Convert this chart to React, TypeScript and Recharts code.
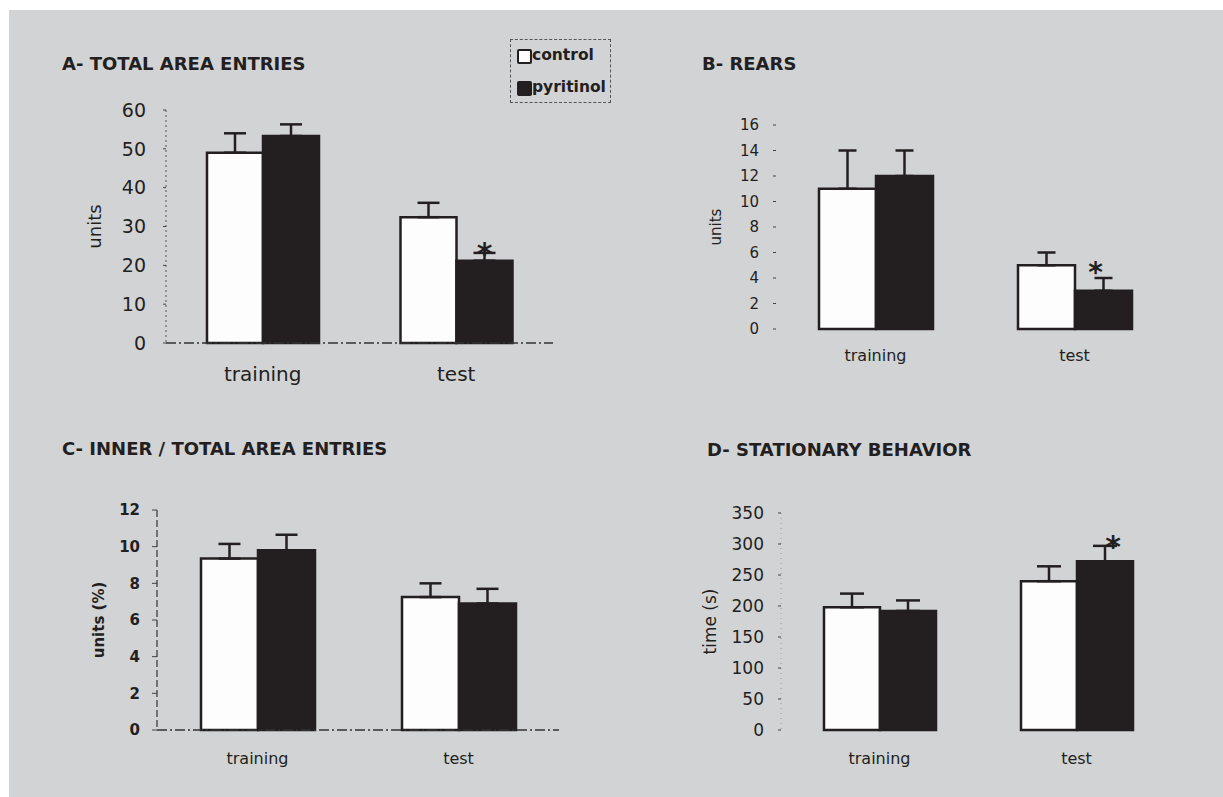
import { Bar, BarChart, ErrorBar, Label, LabelList, XAxis, YAxis } from "recharts";

const INK = "#231f20";
const PAPER = "#d2d3d5";
const FONT = "'DejaVu Sans', sans-serif";

const categories = ["training", "test"];

// A - total area entries
const entriesControl = [49, 32.4];
const entriesControlErr = [5, 3.7];
const entriesPyritinol = [53.3, 21.2];
const entriesPyritinolErr = [3, 2];
const entriesSig = ["", "*"];
const entriesTicks = [0, 10, 20, 30, 40, 50, 60];

// B - rears
const rearsControl = [11, 5];
const rearsControlErr = [3, 1];
const rearsPyritinol = [12, 3];
const rearsPyritinolErr = [2, 1];
const rearsSig = ["", "*"];
const rearsTicks = [0, 2, 4, 6, 8, 10, 12, 14, 16];

// C - inner / total area entries
const innerControl = [9.35, 7.25];
const innerControlErr = [0.8, 0.75];
const innerPyritinol = [9.8, 6.9];
const innerPyritinolErr = [0.85, 0.8];
const innerSig = ["", ""];
const innerTicks = [0, 2, 4, 6, 8, 10, 12];

// D - stationary behavior
const stationaryControl = [198, 240];
const stationaryControlErr = [22, 24];
const stationaryPyritinol = [192, 272];
const stationaryPyritinolErr = [17, 25];
const stationarySig = ["", "*"];
const stationaryTicks = [0, 50, 100, 150, 200, 250, 300, 350];

function buildRows(control: number[], controlErr: number[], pyritinol: number[], pyritinolErr: number[], sig: string[]) {
  return categories.map((name, i) => ({
    name,
    control: control[i],
    controlErr: [0, controlErr[i]],
    pyritinol: pyritinol[i],
    pyritinolErr: [0, pyritinolErr[i]],
    sig: sig[i]
  }));
}

function makeStar(values: number[], errs: number[], dx: number, dy: number, size: number) {
  return (props: any) => {
    const box = props.viewBox && props.viewBox.width !== undefined ? props.viewBox : props;
    const { x, y, width, height } = box;
    const i = props.index;
    if (!props.value || x === undefined) return null;
    const top = y - (errs[i] * Math.abs(height)) / values[i];
    return (
      <text x={x + width / 2 + dx} y={top + dy} textAnchor="middle" fontSize={size} fontWeight="bold" fill={INK} fontFamily={FONT}>
        {props.value}
      </text>
    );
  };
}

type Layout = {
  left: number;
  top: number;
  width: number;
  height: number;
  yWidth: number;
  xHeight: number;
  barSize: number;
  tickFont: number;
  tickBold?: boolean;
  catFont: number;
  catMargin: number;
  tickSize: number;
  tickMargin: number;
  yLabel: string;
  yLabelFont: number;
  yLabelBold?: boolean;
  yLabelOffset: number;
  yAxisLine: any;
  xAxisLine: any;
  errWidth: number;
  star: { dx: number; dy: number; size: number };
};

type PanelProps = {
  layout: Layout;
  control: number[];
  controlErr: number[];
  pyritinol: number[];
  pyritinolErr: number[];
  sig: string[];
  ticks: number[];
};

function Panel({ layout, control, controlErr, pyritinol, pyritinolErr, sig, ticks }: PanelProps) {
  const rows = buildRows(control, controlErr, pyritinol, pyritinolErr, sig);
  return (
    <div style={{ position: "absolute", left: layout.left, top: layout.top }}>
      <BarChart
        width={layout.width}
        height={layout.height}
        data={rows}
        margin={{ top: 15, right: 10, left: 0, bottom: 0 }}
        barGap={0}
        style={{ fontFamily: FONT }}
      >
        <XAxis
          dataKey="name"
          type="category"
          interval={0}
          height={layout.xHeight}
          tickLine={false}
          tickSize={0}
          tickMargin={layout.catMargin}
          axisLine={layout.xAxisLine}
          tick={{ fontSize: layout.catFont, fill: INK }}
        />
        <YAxis
          type="number"
          domain={[0, ticks[ticks.length - 1]]}
          ticks={ticks}
          interval={0}
          width={layout.yWidth}
          tickSize={layout.tickSize}
          tickMargin={layout.tickMargin}
          axisLine={layout.yAxisLine}
          tickLine={{ stroke: "#444" }}
          tick={{ fontSize: layout.tickFont, fill: INK, fontWeight: layout.tickBold ? "bold" : "normal" }}
        >
          <Label
            value={layout.yLabel}
            angle={-90}
            position="insideLeft"
            offset={layout.yLabelOffset}
            style={{
              textAnchor: "middle",
              fontSize: layout.yLabelFont,
              fill: INK,
              fontWeight: layout.yLabelBold ? "bold" : "normal"
            }}
          />
        </YAxis>
        <Bar dataKey="control" barSize={layout.barSize} fill="#fdfdfd" stroke={INK} strokeWidth={2.5} isAnimationActive={false}>
          <ErrorBar dataKey="controlErr" direction="y" width={layout.errWidth} stroke={INK} strokeWidth={2.5} />
        </Bar>
        <Bar dataKey="pyritinol" barSize={layout.barSize} fill={INK} stroke={INK} strokeWidth={2.5} isAnimationActive={false}>
          <ErrorBar dataKey="pyritinolErr" direction="y" width={layout.errWidth} stroke={INK} strokeWidth={2.5} />
          <LabelList
            dataKey="sig"
            content={makeStar(pyritinol, pyritinolErr, layout.star.dx, layout.star.dy, layout.star.size)}
          />
        </Bar>
      </BarChart>
    </div>
  );
}

const layoutA: Layout = {
  left: 20, top: 95, width: 543, height: 298, yWidth: 146, xHeight: 50, barSize: 56,
  tickFont: 19, catFont: 20, catMargin: 24, tickSize: 3, tickMargin: 17,
  yLabel: "units", yLabelFont: 18, yLabelOffset: 75,
  yAxisLine: { stroke: "#555", strokeDasharray: "2 3", strokeWidth: 1 },
  xAxisLine: { stroke: "#333", strokeDasharray: "10 3 2 3", strokeWidth: 1.5 },
  errWidth: 11, star: { dx: 0, dy: 11, size: 30 }
};

const layoutB: Layout = {
  left: 690, top: 110, width: 494, height: 259, yWidth: 86, xHeight: 40, barSize: 57,
  tickFont: 15, catFont: 16, catMargin: 21, tickSize: 3, tickMargin: 14,
  yLabel: "units", yLabelFont: 15, yLabelOffset: 26,
  yAxisLine: false, xAxisLine: false,
  errWidth: 9, star: { dx: -8, dy: 4, size: 28 }
};

const layoutC: Layout = {
  left: 20, top: 495, width: 549, height: 285, yWidth: 137, xHeight: 50, barSize: 57,
  tickFont: 15, tickBold: true, catFont: 16, catMargin: 23, tickSize: 5, tickMargin: 12,
  yLabel: "units (%)", yLabelFont: 15, yLabelBold: true, yLabelOffset: 79,
  yAxisLine: { stroke: "#333", strokeDasharray: "7 3", strokeWidth: 1.2 },
  xAxisLine: { stroke: "#333", strokeDasharray: "10 3 2 3", strokeWidth: 1.5 },
  errWidth: 11, star: { dx: 0, dy: 0, size: 30 }
};

const layoutD: Layout = {
  left: 690, top: 498, width: 495, height: 282, yWidth: 91, xHeight: 50, barSize: 56,
  tickFont: 17, catFont: 16, catMargin: 23, tickSize: 3, tickMargin: 14,
  yLabel: "time (s)", yLabelFont: 17, yLabelOffset: 20,
  yAxisLine: { stroke: "#999", strokeDasharray: "1 4", strokeWidth: 1 },
  xAxisLine: false,
  errWidth: 12, star: { dx: 8, dy: 11, size: 30 }
};

const titleStyle = {
  position: "absolute" as const,
  fontFamily: FONT,
  fontWeight: "bold" as const,
  fontSize: 18,
  lineHeight: "18px",
  color: INK,
  whiteSpace: "nowrap" as const
};

function LegendBox() {
  const square = (fill: string) => ({
    position: "absolute" as const,
    left: 6,
    width: 11,
    height: 11,
    background: fill,
    border: `2px solid ${INK}`,
    borderRadius: 2
  });
  const text = {
    position: "absolute" as const,
    left: 21,
    fontSize: 15.5,
    fontWeight: "bold" as const,
    lineHeight: "16px",
    color: INK,
    fontFamily: FONT
  };
  return (
    <div
      style={{
        position: "absolute",
        left: 510,
        top: 39,
        width: 99,
        height: 62,
        border: "1.5px dashed #555"
      }}
    >
      <div style={{ ...square("#fdfdfd"), top: 9 }} />
      <div style={{ ...text, top: 7 }}>control</div>
      <div style={{ ...square(INK), top: 41 }} />
      <div style={{ ...text, top: 39 }}>pyritinol</div>
    </div>
  );
}

export default function App() {
  return (
    <div style={{ position: "absolute", left: 0, top: 0, width: 1223, height: 797, background: "#fff", overflow: "hidden" }}>
      <div style={{ position: "absolute", left: 9, top: 10, right: 0, bottom: 0, background: PAPER }} />
      <div style={{ ...titleStyle, left: 62, top: 54.6 }}>A- TOTAL AREA ENTRIES</div>
      <div style={{ ...titleStyle, left: 702, top: 54.6 }}>B- REARS</div>
      <div style={{ ...titleStyle, left: 62, top: 439.6 }}>C- INNER / TOTAL AREA ENTRIES</div>
      <div style={{ ...titleStyle, left: 707, top: 441.2 }}>D- STATIONARY BEHAVIOR</div>
      <LegendBox />
      <Panel
        layout={layoutA}
        control={entriesControl}
        controlErr={entriesControlErr}
        pyritinol={entriesPyritinol}
        pyritinolErr={entriesPyritinolErr}
        sig={entriesSig}
        ticks={entriesTicks}
      />
      <Panel
        layout={layoutB}
        control={rearsControl}
        controlErr={rearsControlErr}
        pyritinol={rearsPyritinol}
        pyritinolErr={rearsPyritinolErr}
        sig={rearsSig}
        ticks={rearsTicks}
      />
      <Panel
        layout={layoutC}
        control={innerControl}
        controlErr={innerControlErr}
        pyritinol={innerPyritinol}
        pyritinolErr={innerPyritinolErr}
        sig={innerSig}
        ticks={innerTicks}
      />
      <Panel
        layout={layoutD}
        control={stationaryControl}
        controlErr={stationaryControlErr}
        pyritinol={stationaryPyritinol}
        pyritinolErr={stationaryPyritinolErr}
        sig={stationarySig}
        ticks={stationaryTicks}
      />
    </div>
  );
}
